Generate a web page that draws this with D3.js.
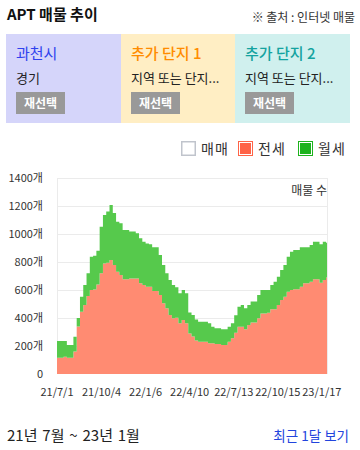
<!DOCTYPE html>
<html><head><meta charset="utf-8">
<script src="https://cdn.jsdelivr.net/npm/d3@7"></script>
<style>
body{margin:0;background:#fff;}
svg{font-family:"Noto Sans CJK KR","Noto Sans",sans-serif;display:block;}
</style>
</head><body><svg id="c" width="360" height="450"></svg>
<script>
// ---- data ----
const startDate = "2021-07-01";
const endDate = "2023-01-28";
const stepDays = 7;
const jeonse = [116,116,124,116,116,160,340,445,493,557,
  600,603,640,719,790,795,814,779,731,707,
  676,676,683,683,683,648,636,624,624,593,
  593,564,505,469,421,398,402,362,386,362,
  290,267,240,231,231,231,219,219,214,214,
  207,207,231,255,295,338,338,319,350,367,
  367,398,433,433,438,462,462,493,529,552,
  588,600,605,605,624,648,648,659,676,676,
  652,671,690];
const wolse = [119,119,111,91,91,106,60,107,143,162,
  238,242,240,333,346,365,393,371,357,369,
  353,353,334,334,322,321,309,309,302,312,
  312,286,274,250,250,238,217,214,214,214,
  150,154,150,143,143,143,143,119,112,112,
  112,112,107,107,125,143,155,150,143,150,
  150,166,167,167,162,174,197,202,214,227,
  250,274,281,281,281,257,257,262,269,269,
  274,274,248];
const tickLabels = ["21/7/1","21/10/4","22/1/6","22/4/10","22/7/13","22/10/15","23/1/17"];
const yTicks = [0,200,400,600,800,1000,1200,1400];
const panelTitles = ["과천시","추가 단지 1","추가 단지 2"];
const panelSubs = ["경기","지역 또는 단지...","지역 또는 단지..."];
const legendNames = ["매매","전세","월세"];

// ---- styles ----
const panelBg = ["#D5D5FA","#FFEEC4","#D0F0EE"];
const panelColor = ["#2F42EE","#FF8C00","#14A3A0"];
const colJeonse = "#FF8B72", colWolse = "#56C94C";

const svg = d3.select("#c");
const parse = d3.timeParse("%Y-%m-%d");
const parseTick = d3.timeParse("%y/%-m/%-d");
const t0 = parse(startDate), t1 = parse(endDate);

// header
svg.append("text").attr("x",7).attr("y",20).attr("font-size",15).attr("font-weight","bold")
  .attr("fill","#111").text("APT 매물 추이");
svg.append("text").attr("x",355).attr("y",22).attr("text-anchor","end").attr("font-size",12)
  .attr("fill","#333").text("※ 출처 : 인터넷 매물");

// panels
const pw = [6,121,235,350];
panelTitles.forEach((t,i)=>{
  const g = svg.append("g").attr("transform",`translate(${pw[i]},34)`);
  g.append("rect").attr("width",pw[i+1]-pw[i]).attr("height",89).attr("fill",panelBg[i]);
  g.append("text").attr("x",10).attr("y",25).attr("font-size",15).attr("fill",panelColor[i])
    .attr("font-weight", i===0?"normal":"500").text(t);
  g.append("text").attr("x",10).attr("y",49).attr("font-size",13).attr("fill","#222").text(panelSubs[i]);
  g.append("rect").attr("x",10).attr("y",58).attr("width",49).attr("height",22).attr("fill","#999");
  g.append("text").attr("x",34.5).attr("y",74).attr("text-anchor","middle").attr("font-size",12)
    .attr("font-weight","bold").attr("fill","#fff").text("재선택");
});

// legend
const lgX = [181,238,298];
const lgFill = ["#fff","#FF6347","#1DB31D"];
const lgStroke = ["#C0C4CC","#FF6347","#1DB31D"];
legendNames.forEach((n,i)=>{
  svg.append("rect").attr("x",lgX[i]+0.5).attr("y",141.5).attr("width",14).attr("height",14)
    .attr("fill",lgStroke[i]).attr("stroke",lgStroke[i]);
  svg.append("rect").attr("x",lgX[i]+1.5).attr("y",142.5).attr("width",12).attr("height",12)
    .attr("fill",lgFill[i]).attr("stroke","#fff").attr("stroke-width", i===0?0:1);
  svg.append("text").attr("x",lgX[i]+20).attr("y",154).attr("font-size",14).attr("fill","#333")
    .attr("letter-spacing",1).text(n);
});

// chart
const x = d3.scaleTime().domain([t0,t1]).range([57,327]);
const y = d3.scaleLinear().domain([0,1400]).range([374,178]);

const data = jeonse.map((v,i)=>({date:d3.timeDay.offset(t0,i*stepDays), jeonse:v, wolse:wolse[i]}));
const stack = d3.stack().keys(["jeonse","wolse"]);
const series = stack(data);

// grid
svg.append("g").selectAll("line").data(yTicks.slice(1)).join("line")
  .attr("x1",57).attr("x2",327).attr("y1",d=>y(d)+0.5).attr("y2",d=>y(d)+0.5)
  .attr("stroke","#EBEBEB");
[57,327].forEach(xx=>svg.append("line").attr("x1",xx+0.5).attr("x2",xx+0.5).attr("y1",178).attr("y2",374)
  .attr("stroke","#EBEBEB"));

const area = d3.area().curve(d3.curveStepAfter)
  .x(d=>x(d.date)).y0(d=>y(d[0])).y1(d=>y(d[1]));
const cols = [colJeonse,colWolse];
series.forEach((s,i)=>{
  const pts = s.map(p=>Object.assign([p[0],p[1]],{date:p.data.date}));
  const last = pts[pts.length-1];
  pts.push(Object.assign([last[0],last[1]],{date:t1}));
  svg.append("path").attr("d",area(pts)).attr("fill",cols[i]);
});

// y axis labels
svg.append("g").selectAll("text").data(yTicks).join("text")
  .attr("x",43).attr("y",d=>y(d)+4).attr("text-anchor","end").attr("font-size",11)
  .attr("fill","#333").text(d=>d===0?"0":d+"개");

// x axis labels
svg.append("g").selectAll("text").data(tickLabels).join("text")
  .attr("x",d=>x(parseTick(d))).attr("y",396).attr("text-anchor","middle").attr("font-size",11)
  .attr("fill","#333").text(d=>d);

svg.append("text").attr("x",327).attr("y",195).attr("text-anchor","end").attr("font-size",12)
  .attr("fill","#333").text("매물 수");

// footer
svg.append("text").attr("x",7).attr("y",441).attr("font-size",15).attr("fill","#222")
  .attr("word-spacing",1.5).text("21년 7월 ~ 23년 1월");
svg.append("text").attr("x",349).attr("y",441).attr("text-anchor","end").attr("font-size",13.5)
  .attr("fill","#2244DD").text("최근 1달 보기");
</script>
</body></html>
